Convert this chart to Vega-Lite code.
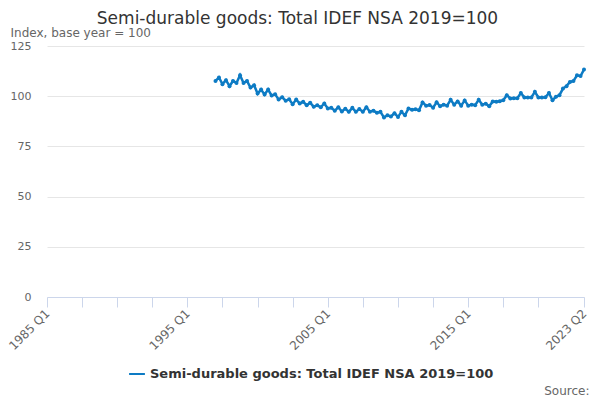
{
  "$schema": "https://vega.github.io/schema/vega-lite/v6.json",
  "width": 537,
  "height": 251,
  "autosize": "none",
  "padding": {"left": 47, "top": 46, "right": 16, "bottom": 103},
  "background": "white",
  "config": {
    "font": "DejaVu Sans",
    "view": {"stroke": null}
  },
  "title": {
    "text": "Semi-durable goods: Total IDEF NSA 2019=100",
    "anchor": "middle",
    "frame": "group",
    "dx": -18,
    "offset": -2,
    "fontSize": 17,
    "fontWeight": "normal",
    "color": "#333333"
  },
  "data": {
    "values": [
      {"date": "1997-01-01T00:00:00", "value": 107.6, "series": "Semi-durable goods: Total IDEF NSA 2019=100"},
      {"date": "1997-04-01T00:00:00", "value": 109.3, "series": "Semi-durable goods: Total IDEF NSA 2019=100"},
      {"date": "1997-07-01T00:00:00", "value": 106.0, "series": "Semi-durable goods: Total IDEF NSA 2019=100"},
      {"date": "1997-10-01T00:00:00", "value": 108.0, "series": "Semi-durable goods: Total IDEF NSA 2019=100"},
      {"date": "1998-01-01T00:00:00", "value": 105.0, "series": "Semi-durable goods: Total IDEF NSA 2019=100"},
      {"date": "1998-04-01T00:00:00", "value": 107.6, "series": "Semi-durable goods: Total IDEF NSA 2019=100"},
      {"date": "1998-07-01T00:00:00", "value": 106.6, "series": "Semi-durable goods: Total IDEF NSA 2019=100"},
      {"date": "1998-10-01T00:00:00", "value": 110.4, "series": "Semi-durable goods: Total IDEF NSA 2019=100"},
      {"date": "1999-01-01T00:00:00", "value": 106.6, "series": "Semi-durable goods: Total IDEF NSA 2019=100"},
      {"date": "1999-04-01T00:00:00", "value": 107.6, "series": "Semi-durable goods: Total IDEF NSA 2019=100"},
      {"date": "1999-07-01T00:00:00", "value": 104.3, "series": "Semi-durable goods: Total IDEF NSA 2019=100"},
      {"date": "1999-10-01T00:00:00", "value": 105.5, "series": "Semi-durable goods: Total IDEF NSA 2019=100"},
      {"date": "2000-01-01T00:00:00", "value": 101.3, "series": "Semi-durable goods: Total IDEF NSA 2019=100"},
      {"date": "2000-04-01T00:00:00", "value": 103.3, "series": "Semi-durable goods: Total IDEF NSA 2019=100"},
      {"date": "2000-07-01T00:00:00", "value": 100.8, "series": "Semi-durable goods: Total IDEF NSA 2019=100"},
      {"date": "2000-10-01T00:00:00", "value": 103.3, "series": "Semi-durable goods: Total IDEF NSA 2019=100"},
      {"date": "2001-01-01T00:00:00", "value": 100.3, "series": "Semi-durable goods: Total IDEF NSA 2019=100"},
      {"date": "2001-04-01T00:00:00", "value": 101.0, "series": "Semi-durable goods: Total IDEF NSA 2019=100"},
      {"date": "2001-07-01T00:00:00", "value": 98.3, "series": "Semi-durable goods: Total IDEF NSA 2019=100"},
      {"date": "2001-10-01T00:00:00", "value": 99.5, "series": "Semi-durable goods: Total IDEF NSA 2019=100"},
      {"date": "2002-01-01T00:00:00", "value": 97.7, "series": "Semi-durable goods: Total IDEF NSA 2019=100"},
      {"date": "2002-04-01T00:00:00", "value": 98.5, "series": "Semi-durable goods: Total IDEF NSA 2019=100"},
      {"date": "2002-07-01T00:00:00", "value": 96.0, "series": "Semi-durable goods: Total IDEF NSA 2019=100"},
      {"date": "2002-10-01T00:00:00", "value": 98.3, "series": "Semi-durable goods: Total IDEF NSA 2019=100"},
      {"date": "2003-01-01T00:00:00", "value": 96.4, "series": "Semi-durable goods: Total IDEF NSA 2019=100"},
      {"date": "2003-04-01T00:00:00", "value": 97.2, "series": "Semi-durable goods: Total IDEF NSA 2019=100"},
      {"date": "2003-07-01T00:00:00", "value": 95.5, "series": "Semi-durable goods: Total IDEF NSA 2019=100"},
      {"date": "2003-10-01T00:00:00", "value": 96.8, "series": "Semi-durable goods: Total IDEF NSA 2019=100"},
      {"date": "2004-01-01T00:00:00", "value": 94.7, "series": "Semi-durable goods: Total IDEF NSA 2019=100"},
      {"date": "2004-04-01T00:00:00", "value": 95.5, "series": "Semi-durable goods: Total IDEF NSA 2019=100"},
      {"date": "2004-07-01T00:00:00", "value": 94.5, "series": "Semi-durable goods: Total IDEF NSA 2019=100"},
      {"date": "2004-10-01T00:00:00", "value": 96.4, "series": "Semi-durable goods: Total IDEF NSA 2019=100"},
      {"date": "2005-01-01T00:00:00", "value": 93.9, "series": "Semi-durable goods: Total IDEF NSA 2019=100"},
      {"date": "2005-04-01T00:00:00", "value": 94.2, "series": "Semi-durable goods: Total IDEF NSA 2019=100"},
      {"date": "2005-07-01T00:00:00", "value": 92.8, "series": "Semi-durable goods: Total IDEF NSA 2019=100"},
      {"date": "2005-10-01T00:00:00", "value": 94.5, "series": "Semi-durable goods: Total IDEF NSA 2019=100"},
      {"date": "2006-01-01T00:00:00", "value": 92.4, "series": "Semi-durable goods: Total IDEF NSA 2019=100"},
      {"date": "2006-04-01T00:00:00", "value": 93.8, "series": "Semi-durable goods: Total IDEF NSA 2019=100"},
      {"date": "2006-07-01T00:00:00", "value": 92.2, "series": "Semi-durable goods: Total IDEF NSA 2019=100"},
      {"date": "2006-10-01T00:00:00", "value": 94.2, "series": "Semi-durable goods: Total IDEF NSA 2019=100"},
      {"date": "2007-01-01T00:00:00", "value": 92.2, "series": "Semi-durable goods: Total IDEF NSA 2019=100"},
      {"date": "2007-04-01T00:00:00", "value": 93.6, "series": "Semi-durable goods: Total IDEF NSA 2019=100"},
      {"date": "2007-07-01T00:00:00", "value": 92.3, "series": "Semi-durable goods: Total IDEF NSA 2019=100"},
      {"date": "2007-10-01T00:00:00", "value": 94.5, "series": "Semi-durable goods: Total IDEF NSA 2019=100"},
      {"date": "2008-01-01T00:00:00", "value": 92.3, "series": "Semi-durable goods: Total IDEF NSA 2019=100"},
      {"date": "2008-04-01T00:00:00", "value": 92.8, "series": "Semi-durable goods: Total IDEF NSA 2019=100"},
      {"date": "2008-07-01T00:00:00", "value": 91.7, "series": "Semi-durable goods: Total IDEF NSA 2019=100"},
      {"date": "2008-10-01T00:00:00", "value": 92.2, "series": "Semi-durable goods: Total IDEF NSA 2019=100"},
      {"date": "2009-01-01T00:00:00", "value": 89.4, "series": "Semi-durable goods: Total IDEF NSA 2019=100"},
      {"date": "2009-04-01T00:00:00", "value": 90.5, "series": "Semi-durable goods: Total IDEF NSA 2019=100"},
      {"date": "2009-07-01T00:00:00", "value": 89.9, "series": "Semi-durable goods: Total IDEF NSA 2019=100"},
      {"date": "2009-10-01T00:00:00", "value": 91.5, "series": "Semi-durable goods: Total IDEF NSA 2019=100"},
      {"date": "2010-01-01T00:00:00", "value": 89.7, "series": "Semi-durable goods: Total IDEF NSA 2019=100"},
      {"date": "2010-04-01T00:00:00", "value": 92.2, "series": "Semi-durable goods: Total IDEF NSA 2019=100"},
      {"date": "2010-07-01T00:00:00", "value": 90.5, "series": "Semi-durable goods: Total IDEF NSA 2019=100"},
      {"date": "2010-10-01T00:00:00", "value": 93.9, "series": "Semi-durable goods: Total IDEF NSA 2019=100"},
      {"date": "2011-01-01T00:00:00", "value": 93.2, "series": "Semi-durable goods: Total IDEF NSA 2019=100"},
      {"date": "2011-04-01T00:00:00", "value": 93.5, "series": "Semi-durable goods: Total IDEF NSA 2019=100"},
      {"date": "2011-07-01T00:00:00", "value": 93.0, "series": "Semi-durable goods: Total IDEF NSA 2019=100"},
      {"date": "2011-10-01T00:00:00", "value": 96.9, "series": "Semi-durable goods: Total IDEF NSA 2019=100"},
      {"date": "2012-01-01T00:00:00", "value": 95.3, "series": "Semi-durable goods: Total IDEF NSA 2019=100"},
      {"date": "2012-04-01T00:00:00", "value": 95.6, "series": "Semi-durable goods: Total IDEF NSA 2019=100"},
      {"date": "2012-07-01T00:00:00", "value": 94.3, "series": "Semi-durable goods: Total IDEF NSA 2019=100"},
      {"date": "2012-10-01T00:00:00", "value": 97.0, "series": "Semi-durable goods: Total IDEF NSA 2019=100"},
      {"date": "2013-01-01T00:00:00", "value": 95.0, "series": "Semi-durable goods: Total IDEF NSA 2019=100"},
      {"date": "2013-04-01T00:00:00", "value": 95.8, "series": "Semi-durable goods: Total IDEF NSA 2019=100"},
      {"date": "2013-07-01T00:00:00", "value": 95.3, "series": "Semi-durable goods: Total IDEF NSA 2019=100"},
      {"date": "2013-10-01T00:00:00", "value": 98.2, "series": "Semi-durable goods: Total IDEF NSA 2019=100"},
      {"date": "2014-01-01T00:00:00", "value": 95.8, "series": "Semi-durable goods: Total IDEF NSA 2019=100"},
      {"date": "2014-04-01T00:00:00", "value": 97.4, "series": "Semi-durable goods: Total IDEF NSA 2019=100"},
      {"date": "2014-07-01T00:00:00", "value": 95.3, "series": "Semi-durable goods: Total IDEF NSA 2019=100"},
      {"date": "2014-10-01T00:00:00", "value": 97.9, "series": "Semi-durable goods: Total IDEF NSA 2019=100"},
      {"date": "2015-01-01T00:00:00", "value": 95.3, "series": "Semi-durable goods: Total IDEF NSA 2019=100"},
      {"date": "2015-04-01T00:00:00", "value": 95.8, "series": "Semi-durable goods: Total IDEF NSA 2019=100"},
      {"date": "2015-07-01T00:00:00", "value": 95.5, "series": "Semi-durable goods: Total IDEF NSA 2019=100"},
      {"date": "2015-10-01T00:00:00", "value": 98.2, "series": "Semi-durable goods: Total IDEF NSA 2019=100"},
      {"date": "2016-01-01T00:00:00", "value": 95.8, "series": "Semi-durable goods: Total IDEF NSA 2019=100"},
      {"date": "2016-04-01T00:00:00", "value": 96.3, "series": "Semi-durable goods: Total IDEF NSA 2019=100"},
      {"date": "2016-07-01T00:00:00", "value": 95.0, "series": "Semi-durable goods: Total IDEF NSA 2019=100"},
      {"date": "2016-10-01T00:00:00", "value": 97.4, "series": "Semi-durable goods: Total IDEF NSA 2019=100"},
      {"date": "2017-01-01T00:00:00", "value": 97.2, "series": "Semi-durable goods: Total IDEF NSA 2019=100"},
      {"date": "2017-04-01T00:00:00", "value": 97.5, "series": "Semi-durable goods: Total IDEF NSA 2019=100"},
      {"date": "2017-07-01T00:00:00", "value": 98.0, "series": "Semi-durable goods: Total IDEF NSA 2019=100"},
      {"date": "2017-10-01T00:00:00", "value": 100.5, "series": "Semi-durable goods: Total IDEF NSA 2019=100"},
      {"date": "2018-01-01T00:00:00", "value": 98.9, "series": "Semi-durable goods: Total IDEF NSA 2019=100"},
      {"date": "2018-04-01T00:00:00", "value": 99.0, "series": "Semi-durable goods: Total IDEF NSA 2019=100"},
      {"date": "2018-07-01T00:00:00", "value": 99.0, "series": "Semi-durable goods: Total IDEF NSA 2019=100"},
      {"date": "2018-10-01T00:00:00", "value": 101.6, "series": "Semi-durable goods: Total IDEF NSA 2019=100"},
      {"date": "2019-01-01T00:00:00", "value": 99.4, "series": "Semi-durable goods: Total IDEF NSA 2019=100"},
      {"date": "2019-04-01T00:00:00", "value": 99.4, "series": "Semi-durable goods: Total IDEF NSA 2019=100"},
      {"date": "2019-07-01T00:00:00", "value": 99.4, "series": "Semi-durable goods: Total IDEF NSA 2019=100"},
      {"date": "2019-10-01T00:00:00", "value": 102.2, "series": "Semi-durable goods: Total IDEF NSA 2019=100"},
      {"date": "2020-01-01T00:00:00", "value": 99.4, "series": "Semi-durable goods: Total IDEF NSA 2019=100"},
      {"date": "2020-04-01T00:00:00", "value": 99.4, "series": "Semi-durable goods: Total IDEF NSA 2019=100"},
      {"date": "2020-07-01T00:00:00", "value": 99.5, "series": "Semi-durable goods: Total IDEF NSA 2019=100"},
      {"date": "2020-10-01T00:00:00", "value": 101.6, "series": "Semi-durable goods: Total IDEF NSA 2019=100"},
      {"date": "2021-01-01T00:00:00", "value": 98.0, "series": "Semi-durable goods: Total IDEF NSA 2019=100"},
      {"date": "2021-04-01T00:00:00", "value": 99.7, "series": "Semi-durable goods: Total IDEF NSA 2019=100"},
      {"date": "2021-07-01T00:00:00", "value": 100.5, "series": "Semi-durable goods: Total IDEF NSA 2019=100"},
      {"date": "2021-10-01T00:00:00", "value": 103.8, "series": "Semi-durable goods: Total IDEF NSA 2019=100"},
      {"date": "2022-01-01T00:00:00", "value": 105.0, "series": "Semi-durable goods: Total IDEF NSA 2019=100"},
      {"date": "2022-04-01T00:00:00", "value": 107.1, "series": "Semi-durable goods: Total IDEF NSA 2019=100"},
      {"date": "2022-07-01T00:00:00", "value": 107.6, "series": "Semi-durable goods: Total IDEF NSA 2019=100"},
      {"date": "2022-10-01T00:00:00", "value": 110.4, "series": "Semi-durable goods: Total IDEF NSA 2019=100"},
      {"date": "2023-01-01T00:00:00", "value": 110.0, "series": "Semi-durable goods: Total IDEF NSA 2019=100"},
      {"date": "2023-04-01T00:00:00", "value": 113.3, "series": "Semi-durable goods: Total IDEF NSA 2019=100"}
    ]
  },
  "mark": {
    "type": "line",
    "strokeWidth": 2.5,
    "point": {"filled": true, "size": 16}
  },
  "encoding": {
    "x": {
      "field": "date",
      "type": "temporal",
      "scale": {
        "domain": [
          {"year": 1985, "month": 1, "date": 1},
          {"year": 2023, "month": 4, "date": 1}
        ]
      },
      "axis": {
        "title": "Source:",
        "titleFontSize": 12,
        "titleFontWeight": "normal",
        "titleColor": "#666666",
        "titleAlign": "right",
        "titleAnchor": "end",
        "titleBaseline": "middle",
        "titleX": 542,
        "titleY": 93,
        "values": [
          {"year": 1985, "month": 1, "date": 1},
          {"year": 1987, "month": 7, "date": 1},
          {"year": 1990, "month": 1, "date": 1},
          {"year": 1992, "month": 7, "date": 1},
          {"year": 1995, "month": 1, "date": 1},
          {"year": 1997, "month": 7, "date": 1},
          {"year": 2000, "month": 1, "date": 1},
          {"year": 2002, "month": 7, "date": 1},
          {"year": 2005, "month": 1, "date": 1},
          {"year": 2007, "month": 7, "date": 1},
          {"year": 2010, "month": 1, "date": 1},
          {"year": 2012, "month": 7, "date": 1},
          {"year": 2015, "month": 1, "date": 1},
          {"year": 2017, "month": 7, "date": 1},
          {"year": 2020, "month": 1, "date": 1},
          {"year": 2023, "month": 4, "date": 1}
        ],
        "labelExpr": "indexof(['1985 Q1', '1995 Q1', '2005 Q1', '2015 Q1', '2023 Q2'], timeFormat(datum.value, '%Y Q%q')) >= 0 ? timeFormat(datum.value, '%Y Q%q') : ''",
        "labelAngle": -45,
        "labelAlign": "right",
        "labelBaseline": "middle",
        "labelFontSize": 12,
        "labelColor": "#666666",
        "labelPadding": 4,
        "labelOverlap": false,
        "labelBound": false,
        "labelFlush": false,
        "domainColor": "#ccd6eb",
        "tickColor": "#ccd6eb",
        "tickSize": 10,
        "grid": false
      }
    },
    "y": {
      "field": "value",
      "type": "quantitative",
      "scale": {"domain": [0, 125]},
      "axis": {
        "title": "Index, base year = 100",
        "titleAngle": 0,
        "titleAlign": "left",
        "titleBaseline": "middle",
        "titleX": -37,
        "titleY": -14,
        "titleFontSize": 12,
        "titleFontWeight": "normal",
        "titleColor": "#666666",
        "values": [0, 25, 50, 75, 100, 125],
        "labelFontSize": 11,
        "labelColor": "#666666",
        "labelPadding": 16,
        "ticks": false,
        "domain": false,
        "gridColor": "#e6e6e6"
      }
    },
    "color": {
      "field": "series",
      "type": "nominal",
      "scale": {"range": ["#0d7bc4"]},
      "legend": {
        "title": null,
        "orient": "none",
        "legendX": 81,
        "legendY": 319,
        "symbolType": "stroke",
        "symbolSize": 250,
        "symbolStrokeWidth": 2,
        "labelFontSize": 13,
        "labelFontWeight": "bold",
        "labelColor": "#333333",
        "labelLimit": 400
      }
    }
  }
}
